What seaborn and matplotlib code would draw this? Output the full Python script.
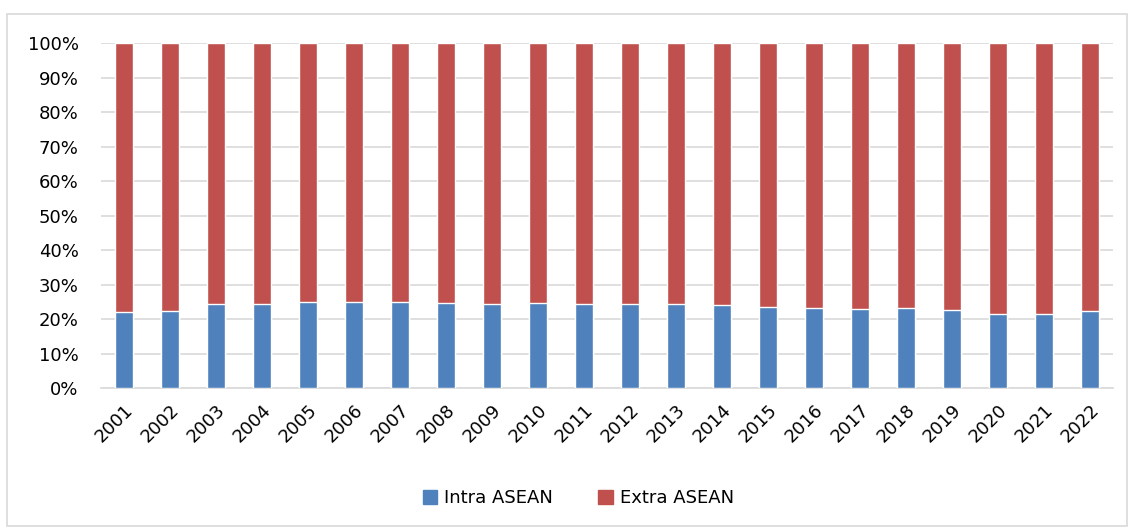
import numpy as np
import pandas as pd
import matplotlib
matplotlib.use("Agg")
import matplotlib.pyplot as plt
import seaborn as sns
from matplotlib.patches import Rectangle, Patch

# data (share of total, %)
years = [str(y) for y in range(2001, 2023)]
intra = [22.1, 22.3, 24.5, 24.5, 24.9, 24.8, 24.9, 24.7, 24.3, 24.7, 24.3,
         24.3, 24.3, 24.1, 23.5, 23.1, 22.9, 23.1, 22.5, 21.4, 21.4, 22.3]
extra = [100 - v for v in intra]

blue = "#4f81bd"
red = "#c0504d"

sns.set_style("white")
plt.rcParams["font.family"] = ["DejaVu Sans"]
plt.rcParams["text.color"] = "black"
plt.rcParams["xtick.color"] = "black"
plt.rcParams["ytick.color"] = "black"

df = pd.DataFrame({"year": years, "intra": intra, "extra": extra})
df["total"] = df["intra"] + df["extra"]

fig = plt.figure(figsize=(11.34, 5.29), dpi=100)
ax = fig.add_axes([0.089, 0.2665, 0.8925, 0.652])

# stacked: draw full height in red, then intra part in blue on top
sns.barplot(data=df, x="year", y="total", color=red, width=0.39,
            saturation=1, ax=ax, zorder=3)
sns.barplot(data=df, x="year", y="intra", color=blue, width=0.39,
            saturation=1, ax=ax, zorder=4)

ax.set_ylim(0, 100)
ax.set_xlim(-0.5, len(years) - 0.5)
ax.set_yticks(np.arange(0, 101, 10))
ax.set_yticklabels([f"{v}%" for v in range(0, 101, 10)], fontsize=13)
ax.set_xticks(range(len(years)))
ax.set_xticklabels(years, rotation=45, ha="right", rotation_mode="anchor",
                   fontsize=13)
ax.tick_params(axis="y", length=0, pad=16)
ax.tick_params(axis="x", length=0, pad=9)
ax.set_xlabel("")
ax.set_ylabel("")
ax.yaxis.grid(True, color="#d9d9d9", linewidth=1.2, zorder=0)
ax.set_axisbelow(True)
for s in ["top", "right", "left"]:
    ax.spines[s].set_visible(False)
ax.spines["bottom"].set_color("#d9d9d9")
ax.spines["bottom"].set_linewidth(1.2)

handles = [Patch(color=blue, label="Intra ASEAN"),
           Patch(color=red, label="Extra ASEAN")]
fig.legend(handles=handles, loc="center", bbox_to_anchor=(0.51, 0.058),
           ncol=2, frameon=False, fontsize=13, handlelength=0.8,
           handleheight=0.8, columnspacing=2.5, handletextpad=0.4)

# chart-area border
fig.patches.append(Rectangle((0.006, 0.006), 0.988, 0.968, transform=fig.transFigure,
                             fill=False, edgecolor="#d9d9d9", linewidth=1.2))

fig.savefig("out.png", dpi=100)
